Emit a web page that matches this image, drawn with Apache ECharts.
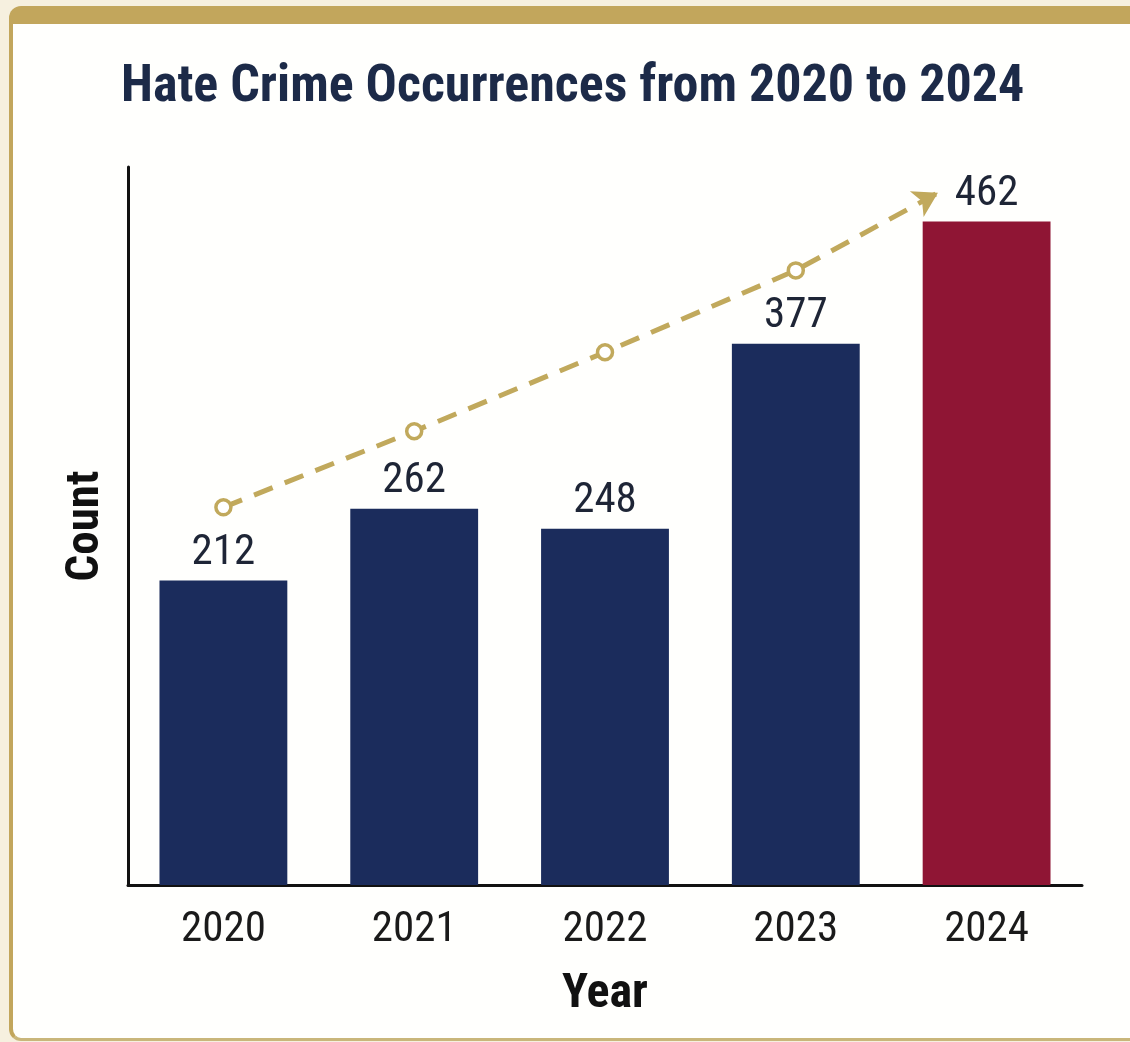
<!DOCTYPE html>
<html>
<head>
<meta charset="utf-8">
<script src="https://cdn.jsdelivr.net/npm/echarts@6/dist/echarts.min.js"></script>
<style>
  html, body { margin: 0; padding: 0; width: 1130px; height: 1042px; background: #f6f0df; overflow: hidden; }
  #frame { position: absolute; left: 9px; top: 6px; width: 1140px; height: 1035px;
           background: #fffffd; border-left: 4px solid #c2a65c; border-top: 18px solid #c2a65c;
           border-bottom: 3px solid #c9b67a; border-radius: 12px; box-sizing: border-box; }
  #chart { position: absolute; left: 0; top: 0; width: 1130px; height: 1042px; }
</style>
</head>
<body>
<div id="frame"></div>
<div id="chart"></div>
<script>
const title = 'Hate Crime Occurrences from 2020 to 2024';
const years = ['2020', '2021', '2022', '2023', '2024'];
const counts = [212, 262, 248, 377, 462];
const trendX = [0, 1, 2, 3, 3.745];
const trendY = [263, 316, 371, 428, 482];

const FONT = '"Roboto Condensed", "Liberation Sans Narrow", "DejaVu Sans Condensed", sans-serif';
const navy = '#1b2c5c';
const red = '#8f1534';
const gold = '#c1a95c';

const chart = echarts.init(document.getElementById('chart'), null, { renderer: 'canvas' });

const trendData = trendX.map((x, i) => {
  const last = i === trendX.length - 1;
  return last
    ? { value: [x, trendY[i]], symbol: 'arrow', symbolSize: [22, 24], symbolRotate: -62,
        itemStyle: { color: gold, borderWidth: 0 } }
    : { value: [x, trendY[i]] };
});

chart.setOption({
  backgroundColor: 'transparent',
  animation: false,
  title: {
    text: title, left: 116, top: 57,
    textStyle: { fontFamily: FONT, fontWeight: 'bold', fontSize: 52, color: '#1c2a48' }
  },
  grid: { left: 128, right: 48, top: 167, bottom: 157, containLabel: false },
  xAxis: [
    {
      type: 'category', data: years,
      axisLine: { lineStyle: { color: '#111', width: 3 } },
      axisTick: { show: false },
      axisLabel: { fontFamily: FONT, fontSize: 43, color: '#1a1a1a', margin: 24 },
      name: 'Year', nameLocation: 'middle', nameGap: 86,
      nameTextStyle: { fontFamily: FONT, fontWeight: 'bold', fontSize: 48, color: '#111' }
    },
    { type: 'value', min: -0.5, max: 4.5, show: false }
  ],
  yAxis: {
    type: 'value', min: 0, max: 500,
    axisLine: { show: true, onZero: false, lineStyle: { color: '#111', width: 3 } },
    axisTick: { show: false }, axisLabel: { show: false }, splitLine: { show: false },
    name: 'Count', nameLocation: 'middle', nameGap: 18, nameRotate: 90,
    nameTextStyle: { fontFamily: FONT, fontWeight: 'bold', fontSize: 47, color: '#111' }
  },
  series: [
    {
      type: 'bar', xAxisIndex: 0, barWidth: '67%',
      data: counts.map((v, i) => ({ value: v, itemStyle: { color: i === counts.length - 1 ? red : navy } })),
      label: { show: true, position: 'top', distance: 6, fontFamily: FONT, fontSize: 43, color: '#1e2536' }
    },
    {
      type: 'line', xAxisIndex: 1, data: trendData, z: 5,
      symbol: 'circle', symbolSize: 15, showSymbol: true,
      lineStyle: { color: gold, width: 5, type: [20, 13] },
      itemStyle: { color: '#ffffff', borderColor: gold, borderWidth: 3.5 }
    }
  ]
});
</script>
</body>
</html>
